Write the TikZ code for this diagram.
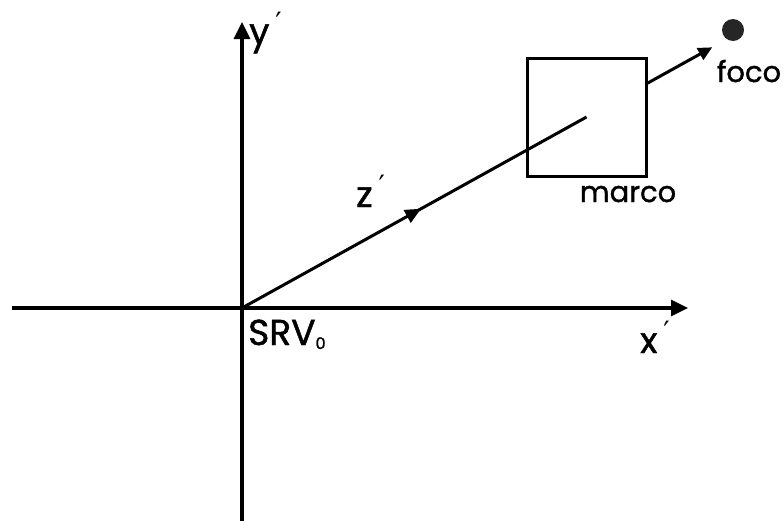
\documentclass[tikz,border=0pt]{standalone}
\usepackage{fontspec}
\setmainfont{Poppins}
\newfontfamily\lblfont[FakeBold=1.3]{Poppins}
\newfontfamily\primefont{DejaVu Sans}
\usetikzlibrary{arrows.meta,calc,decorations.markings}
\newcommand{\acc}{\hspace{6pt}\raisebox{12pt}{\primefont\fontsize{28}{28}\selectfont ′}}
\begin{document}
\begin{tikzpicture}[x=1pt,y=-1pt,
  axis/.style={line width=3.2pt,-{Triangle[length=17pt,width=16pt]}},
  lbl/.style={font=\lblfont\fontsize{36}{36}\selectfont,inner sep=0pt},
  small/.style={font=\lblfont\fontsize{29}{29}\selectfont,inner sep=0pt},
  midarrow/.style={decoration={markings,mark=at position #1 with {\arrow{Triangle[length=16pt,width=14pt]}}},postaction={decorate}}
]
\useasboundingbox (0,0) rectangle (783,520);
\coordinate (O) at (242,308);
\coordinate (ytop) at (242,22);
\coordinate (ybot) at (242,522);
\coordinate (xleft) at (12,308);
\coordinate (xright) at (688,308);
\draw[line width=3.2pt] (ybot) -- (O);
\draw[axis] (O) -- (ytop);
\draw[axis] (xleft) -- (xright);
\node[draw,line width=3pt,minimum width=119pt,minimum height=118pt,inner sep=0pt] (box) at (586.5,117) {};
\draw[line width=3pt,midarrow=0.52] (O) -- (box.center);
\coordinate (fs) at ($(O)!1.171!(box.center)$);
\coordinate (fe) at ($(O)!1.365!(box.center)$);
\draw[line width=3pt,-{Triangle[length=14pt,width=13pt]}] (fs) -- (fe);
\node[circle,fill=black!85,minimum size=22pt,inner sep=0pt] (foco) at (733,30) {};
\node[small,anchor=base] (focol) at (749,82) {foco};
\node[small,anchor=base] (marcol) at (628,202) {marco};
\node[lbl,anchor=base west] (yl) at (249,44) {y\acc};
\node[lbl,anchor=base west] (xl) at (640,353) {x\acc};
\node[lbl,anchor=base west] (zl) at (356,207) {z\acc};
\node[lbl,anchor=base west] (srv) at (248,345) {SRV\raisebox{-4pt}{\fontsize{16}{16}\selectfont 0}};
\end{tikzpicture}
\end{document}
